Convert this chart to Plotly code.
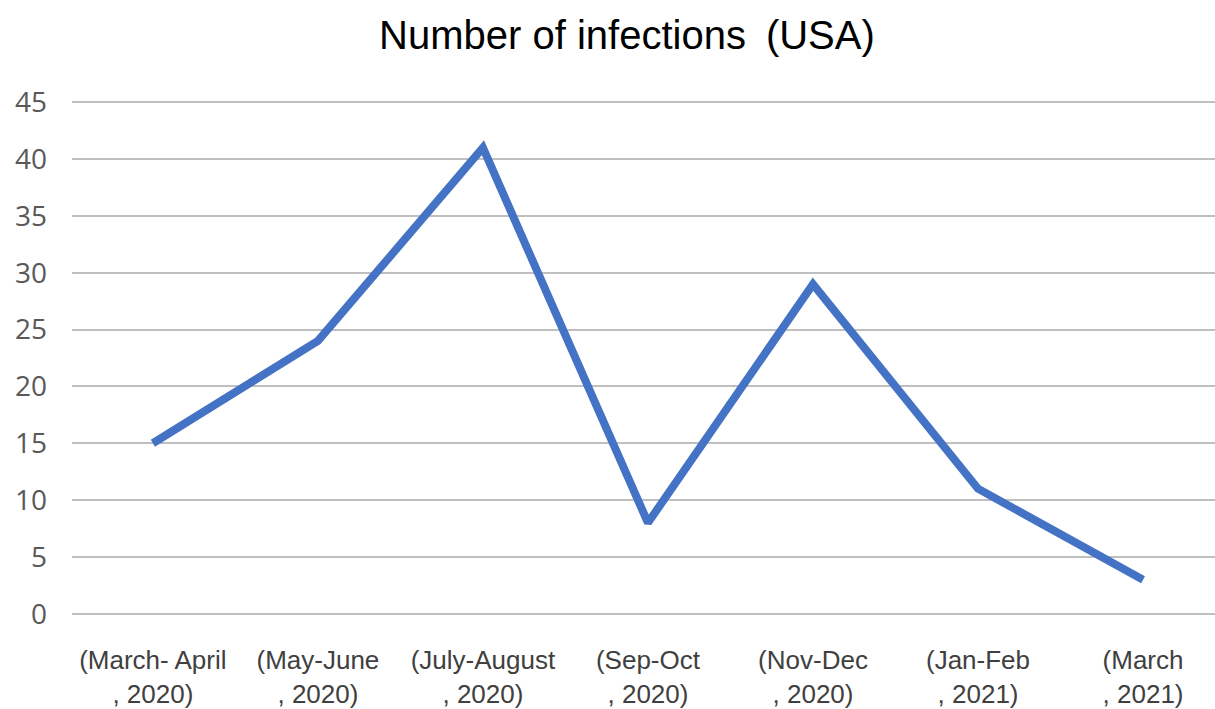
import plotly.graph_objects as go

categories = ["(March- April<br>, 2020)", "(May-June<br>, 2020)", "(July-August<br>, 2020)",
              "(Sep-Oct<br>, 2020)", "(Nov-Dec<br>, 2020)", "(Jan-Feb<br>, 2021)", "(March<br>, 2021)"]
infections = [15, 24, 41, 8, 29, 11, 3]
y_ticks = [0, 5, 10, 15, 20, 25, 30, 35, 40, 45]

fig = go.Figure()
fig.add_trace(go.Scatter(
    x=list(range(len(categories))), y=infections, mode="lines",
    line=dict(color="#4472C4", width=8, shape="linear"),
    hoverinfo="skip", cliponaxis=False,
))

fig.update_layout(
    width=1215, height=709,
    margin=dict(l=72, r=0, t=100, b=93),
    paper_bgcolor="white", plot_bgcolor="white",
    showlegend=False,
    title=dict(text="Number of infections\u2002(USA)", x=0.516, xref="container", xanchor="center",
               y=0.95, yanchor="middle",
               font=dict(family="Liberation Sans, Arial", size=40, color="black")),
    xaxis=dict(
        tickmode="array", tickvals=list(range(len(categories))), ticktext=categories,
        range=[-0.49, 6.436], showgrid=False, zeroline=False, showline=False,
        ticks="", tickfont=dict(family="Liberation Sans, Arial", size=26, color="#404040"),
        ticklabelstandoff=26,
    ),
    yaxis=dict(
        tickmode="array", tickvals=y_ticks, range=[-0.2, 45.2],
        showgrid=True, gridcolor="#BFBFBF", gridwidth=2, zeroline=False, showline=False,
        ticks="", tickfont=dict(family="Open Sans", size=28, color="#595959"),
        ticklabelstandoff=24,
    ),
)

fig.write_html("out.html")
